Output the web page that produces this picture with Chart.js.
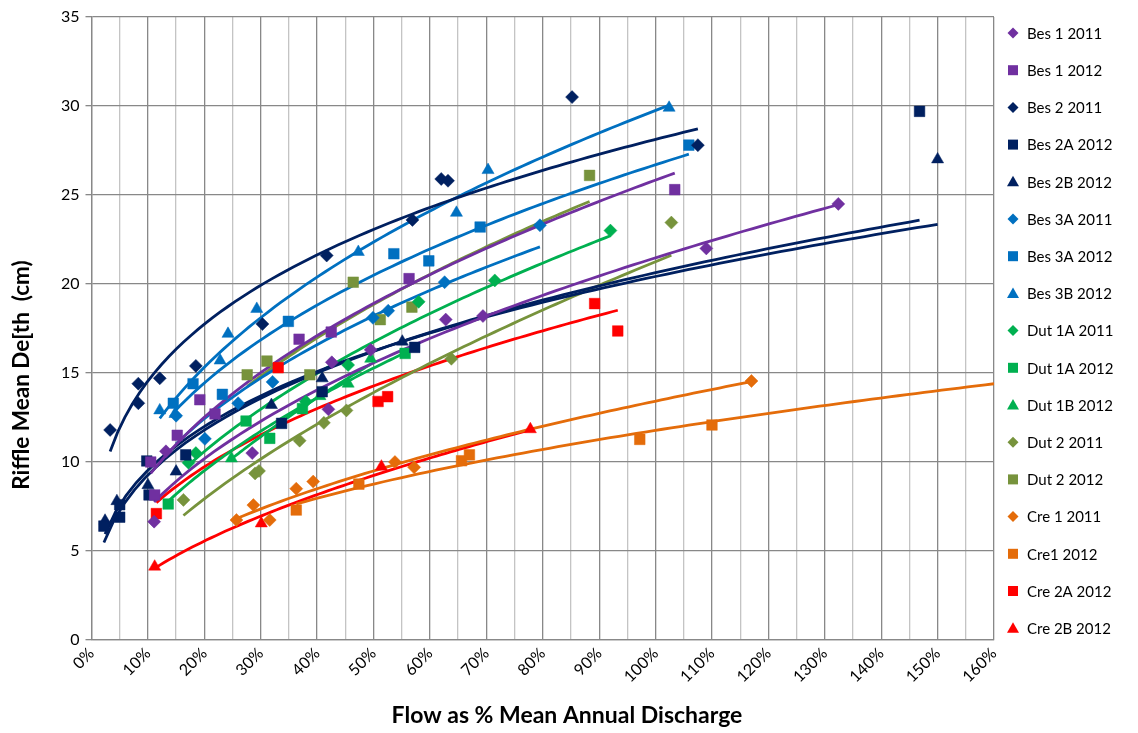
<!DOCTYPE html>
<html><head><meta charset="utf-8">
<script src="https://cdn.jsdelivr.net/npm/chart.js@4.4.1/dist/chart.umd.min.js"></script>
<style>html,body{margin:0;padding:0;background:#fff}#wrap{width:1138px;height:733px}</style>
</head><body><div id="wrap"><canvas id="c" width="1138" height="733"></canvas></div>
<script>
// ---- data (x = flow as % of mean annual discharge, y = riffle mean depth cm) ----
const bes1_2011 = [[11.1,6.65],[13.2,10.6],[28.5,10.5],[42.0,12.96],[42.6,15.6],[49.5,16.3],[62.8,18.0],[69.4,18.2],[109,22.0],[132.4,24.5]];
const bes1_2012 = [[10.5,10.0],[11.2,8.15],[15.2,11.5],[19.2,13.5],[21.9,12.7],[36.8,16.9],[42.5,17.3],[56.3,20.3],[103.4,25.3]];
const bes2_2011 = [[3.3,11.8],[8.3,14.4],[8.3,13.3],[12.1,14.7],[18.5,15.4],[30.3,17.75],[41.7,21.6],[56.9,23.6],[62.0,25.9],[63.2,25.8],[85.2,30.5],[107.5,27.8]];
const bes2a_2012 = [[2.2,6.4],[5.0,6.9],[5.0,7.6],[9.8,10.06],[10.2,8.15],[16.7,10.4],[33.7,12.17],[40.9,13.95],[57.3,16.44],[146.8,29.7]];
const bes2b_2012 = [[2.4,6.7],[4.5,7.8],[10.0,8.7],[15.0,9.46],[31.9,13.2],[40.9,14.7],[55.1,16.76],[150,27.0]];
const bes3a_2011 = [[15.0,12.6],[20.1,11.3],[26.0,13.3],[32.1,14.5],[49.9,18.1],[52.6,18.5],[62.6,20.1],[79.5,23.3]];
const bes3a_2012 = [[14.5,13.3],[18.0,14.4],[23.2,13.8],[34.9,17.9],[53.6,21.7],[59.8,21.3],[68.9,23.2],[105.9,27.8]];
const bes3b_2012 = [[12.1,12.9],[14.8,12.7],[22.8,15.7],[24.2,17.2],[29.3,18.6],[47.3,21.8],[64.7,24.0],[70.3,26.4],[102.4,29.9]];
const dut1a_2011 = [[17.2,9.96],[18.5,10.5],[38.0,13.4],[45.5,15.45],[58.0,19.0],[71.5,20.2],[92.0,23.0]];
const dut1a_2012 = [[13.6,7.64],[27.4,12.3],[31.6,11.33],[37.4,13.0],[55.6,16.1]];
const dut1b_2012 = [[24.8,10.2],[40.5,13.7],[45.5,14.4],[49.5,15.8]];
const dut2_2011 = [[16.3,7.87],[29.0,9.36],[29.7,9.5],[36.9,11.2],[41.2,12.2],[45.2,12.9],[63.8,15.8],[102.8,23.45]];
const dut2_2012 = [[27.6,14.9],[31.1,15.67],[38.7,14.9],[46.4,20.1],[51.2,18.0],[56.8,18.7],[88.3,26.1]];
const cre1_2011 = [[25.7,6.74],[28.7,7.58],[31.6,6.74],[36.3,8.5],[39.3,8.9],[53.8,10.0],[57.2,9.7],[117,14.55]];
const cre1_2012 = [[36.3,7.3],[47.4,8.76],[65.6,10.07],[67.0,10.4],[97.2,11.27],[110,12.08]];
const cre2a_2012 = [[11.5,7.1],[33.1,15.3],[50.8,13.4],[52.5,13.67],[89.2,18.9],[93.3,17.36]];
const cre2b_2012 = [[11.2,4.12],[30.1,6.55],[51.4,9.74],[77.8,11.84]];

const xTicks = {min:0, max:160, step:10};
const yTicks = {min:0, max:35, step:5};
const yTitle = 'Riffle Mean De[th  (cm)';
const xTitle = 'Flow as % Mean Annual Discharge';

const C = {purple:'#7030A0', navy:'#002060', blue:'#0070C0', green:'#00B050', olive:'#77933C', orange:'#E46C0A', red:'#FF0000'};
const series = [
  {label:'Bes 1 2011', pts:bes1_2011, color:C.purple, shape:'rectRot'},
  {label:'Bes 1 2012', pts:bes1_2012, color:C.purple, shape:'rect'},
  {label:'Bes 2 2011', pts:bes2_2011, color:C.navy, shape:'rectRot'},
  {label:'Bes 2A 2012', pts:bes2a_2012, color:C.navy, shape:'rect'},
  {label:'Bes 2B 2012', pts:bes2b_2012, color:C.navy, shape:'triangle'},
  {label:'Bes 3A 2011', pts:bes3a_2011, color:C.blue, shape:'rectRot'},
  {label:'Bes 3A 2012', pts:bes3a_2012, color:C.blue, shape:'rect'},
  {label:'Bes 3B 2012', pts:bes3b_2012, color:C.blue, shape:'triangle'},
  {label:'Dut 1A 2011', pts:dut1a_2011, color:C.green, shape:'rectRot'},
  {label:'Dut 1A 2012', pts:dut1a_2012, color:C.green, shape:'rect'},
  {label:'Dut 1B 2012', pts:dut1b_2012, color:C.green, shape:'triangle'},
  {label:'Dut 2 2011', pts:dut2_2011, color:C.olive, shape:'rectRot'},
  {label:'Dut 2 2012', pts:dut2_2012, color:C.olive, shape:'rect'},
  {label:'Cre 1 2011', pts:cre1_2011, color:C.orange, shape:'rectRot'},
  {label:'Cre1 2012', pts:cre1_2012, color:C.orange, shape:'rect', forward:160},
  {label:'Cre 2A 2012', pts:cre2a_2012, color:C.red, shape:'rect'},
  {label:'Cre 2B 2012', pts:cre2b_2012, color:C.red, shape:'triangle'}
];

// power-law trendline y = a*x^b (least squares in log space), like the spreadsheet trendline
function powerTrend(pts, xEnd){
  const n = pts.length;
  let sx=0, sy=0, sxx=0, sxy=0;
  pts.forEach(([x,y])=>{const lx=Math.log(x), ly=Math.log(y); sx+=lx; sy+=ly; sxx+=lx*lx; sxy+=lx*ly;});
  const b = (n*sxy - sx*sy)/(n*sxx - sx*sx);
  const a = Math.exp((sy - b*sx)/n);
  const xs = pts.map(p=>p[0]);
  const x0 = Math.min(...xs), x1 = xEnd || Math.max(...xs);
  const out = [];
  for(let i=0;i<=80;i++){ const x = x0 + (x1-x0)*i/80; out.push({x, y:a*Math.pow(x,b)}); }
  return out;
}

const sizeOf = s => s==='rect' ? 7.5 : (s==='triangle' ? 7 : 6.5);
const datasets = [];
series.forEach(s=>{
  datasets.push({type:'scatter', label:s.label, data:s.pts.map(([x,y])=>({x,y})), pointStyle:s.shape,
    pointRadius:sizeOf(s.shape), pointBackgroundColor:s.color, pointBorderColor:s.color, pointBorderWidth:0.5, order:0});
});
series.forEach(s=>{
  datasets.push({type:'line', label:s.label+' trend', data:powerTrend(s.pts, s.forward), borderColor:s.color,
    borderWidth:2.8, pointRadius:0, fill:false, tension:0, order:1, isTrend:true});
});

const FONT = 'Lato, "Open Sans", sans-serif';

const customDraw = {
  id:'customDraw',
  afterDraw(chart){
    const ctx = chart.ctx;
    ctx.save();
    // axis titles
    ctx.fillStyle = '#000';
    ctx.font = 'bold 23px ' + FONT;
    ctx.textAlign = 'center'; ctx.textBaseline = 'middle';
    ctx.fillText(xTitle, 567, 716);
    ctx.translate(22, 375); ctx.rotate(-Math.PI/2);
    ctx.font = 'bold 22.5px ' + FONT;
    ctx.fillText(yTitle, 0, 0);
    ctx.restore();
    // legend
    ctx.save();
    ctx.font = '15px ' + FONT;
    ctx.textAlign = 'left'; ctx.textBaseline = 'middle';
    const y0 = 33, dy = 37.2, mx = 1013, tx = 1027;
    series.forEach((s,i)=>{
      const y = y0 + i*dy;
      ctx.fillStyle = s.color;
      ctx.beginPath();
      if(s.shape==='rectRot'){ const r=5.5; ctx.moveTo(mx,y-r); ctx.lineTo(mx+r,y); ctx.lineTo(mx,y+r); ctx.lineTo(mx-r,y); ctx.closePath(); }
      else if(s.shape==='rect'){ const r=5; ctx.rect(mx-r,y-r,2*r,2*r); }
      else { const r=6; ctx.moveTo(mx,y-r); ctx.lineTo(mx+r,y+r*0.75); ctx.lineTo(mx-r,y+r*0.75); ctx.closePath(); }
      ctx.fill();
      ctx.fillStyle = '#000';
      ctx.fillText(s.label, tx, y+1);
    });
    ctx.restore();
  }
};

new Chart(document.getElementById('c'), {
  data:{datasets},
  options:{
    responsive:false, animation:false, events:[],
    layout:{padding:{left:0, right:144, top:17, bottom:0}},
    plugins:{legend:{display:false}, tooltip:{enabled:false}},
    scales:{
      x:{type:'linear', min:xTicks.min, max:xTicks.max,
        ticks:{stepSize:xTicks.step/2, autoSkip:false, maxRotation:45, minRotation:45, padding:4,
          color:'#000', font:{family:FONT, size:16},
          callback:v => (v % xTicks.step === 0) ? v + '%' : ''},
        grid:{color:ctx => (ctx.tick && ctx.tick.value % xTicks.step === 0) ? '#888888' : '#c4c4c4', lineWidth:1.3, drawTicks:false},
        border:{color:'#888888', width:1.3},
        afterFit:s=>{ s.height = 93; }
      },
      y:{type:'linear', min:yTicks.min, max:yTicks.max,
        ticks:{stepSize:yTicks.step, color:'#000', font:{family:FONT, size:16}, padding:6},
        grid:{color:'#888888', lineWidth:1.3, tickLength:6, tickColor:'#888888'},
        border:{color:'#888888', width:1.3},
        afterFit:s=>{ s.width = 91.5; }
      }
    }
  },
  plugins:[customDraw]
});
</script></body></html>
